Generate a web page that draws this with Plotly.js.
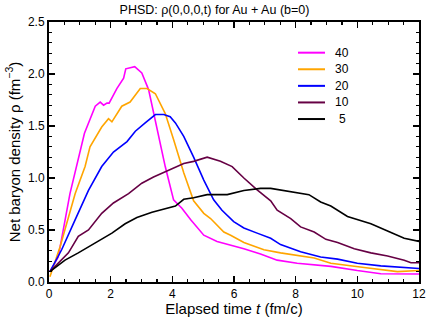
<!DOCTYPE html>
<html>
<head>
<meta charset="utf-8">
<script src="https://cdn.plot.ly/plotly-3.0.1.min.js"></script>
<style>html,body{margin:0;padding:0;background:#fff;}#chart{width:429px;height:317px;}</style>
</head>
<body>
<div id="chart"></div>
<script>
const names = ["40", "30", "20", "10", "5"];
const colors = ["#ff00ff", "#ffa500", "#0000ff", "#660044", "#000000"];

const t40 = [0.03,0.3,0.68,0.95,1.15,1.5,1.66,1.77,1.88,1.95,2.2,2.42,2.49,2.78,3.01,3.23,3.5,3.77,4.04,4.31,4.59,5.02,5.45,5.78,6.32,6.86,7.4,8.05,9.14,10.0,10.76,12.0];
const r40 = [0.10,0.24,0.85,1.17,1.43,1.69,1.73,1.70,1.72,1.72,1.86,1.96,2.05,2.07,2.01,1.85,1.49,1.11,0.79,0.71,0.60,0.45,0.39,0.365,0.32,0.27,0.21,0.18,0.15,0.11,0.08,0.077];

const t30 = [0.03,0.36,0.85,1.17,1.33,1.71,1.93,2.04,2.36,2.63,2.96,3.18,3.45,3.77,4.04,4.37,4.69,5.02,5.24,5.45,5.67,5.89,6.32,6.97,7.51,8.6,9.14,10.22,11.3,12.0];
const r30 = [0.05,0.34,0.85,1.11,1.30,1.49,1.57,1.54,1.69,1.73,1.86,1.86,1.81,1.62,1.37,1.05,0.78,0.66,0.61,0.55,0.48,0.45,0.38,0.31,0.28,0.23,0.18,0.14,0.10,0.11];

const t20 = [0.03,0.41,0.85,1.28,1.71,2.09,2.53,2.80,3.12,3.45,3.72,3.93,4.1,4.37,4.69,5.02,5.34,5.61,5.99,6.32,6.75,7.19,7.51,8.16,8.81,9.36,10.0,10.76,12.0];
const r20 = [0.10,0.31,0.60,0.88,1.11,1.25,1.35,1.45,1.53,1.61,1.61,1.59,1.53,1.40,1.20,0.98,0.79,0.69,0.58,0.52,0.47,0.42,0.36,0.29,0.24,0.22,0.18,0.155,0.13];

const t10 = [0.03,0.63,0.95,1.28,1.71,2.09,2.58,3.01,3.39,3.77,3.93,4.37,4.69,5.13,5.56,5.94,6.32,6.75,7.19,7.4,7.84,8.16,8.6,8.98,9.36,9.9,10.44,10.98,11.52,11.74,12.0];
const r10 = [0.10,0.28,0.44,0.50,0.66,0.76,0.85,0.95,1.01,1.06,1.08,1.14,1.16,1.20,1.16,1.11,1.00,0.885,0.78,0.69,0.61,0.53,0.48,0.41,0.38,0.32,0.28,0.25,0.21,0.185,0.185];

const t5 = [0.03,0.52,0.95,1.17,1.60,2.04,2.47,2.85,3.34,3.77,4.1,4.37,4.69,5.13,5.78,6.32,6.86,7.19,7.51,7.89,8.43,8.81,9.14,9.68,10.0,10.44,10.98,11.52,12.0];
const r5 = [0.10,0.21,0.28,0.32,0.39,0.47,0.56,0.62,0.67,0.70,0.73,0.795,0.81,0.84,0.84,0.88,0.90,0.90,0.885,0.86,0.84,0.77,0.73,0.63,0.60,0.56,0.49,0.42,0.39];

const xs = [t40, t30, t20, t10, t5];
const ys = [r40, r30, r20, r10, r5];

const data = xs.map((x, i) => ({
  x: x, y: ys[i], name: names[i], type: "scatter", mode: "lines",
  line: {color: colors[i], width: 1.6}, showlegend: false
}));

const font = {family: "Liberation Sans, Arial, sans-serif", color: "#000"};
const axisCommon = {
  showgrid: false, zeroline: false, showline: true, linecolor: "#000", linewidth: 2,
  mirror: "allticks", ticks: "inside", ticklen: 6, tickwidth: 1.5, tickcolor: "#000",
  tickfont: {family: font.family, size: 12, color: "#000"}
};

// legend drawn as shapes + annotations (paper coordinates)
const legY0 = 0.882, legStep = 0.0638;
const shapes = names.map((n, i) => ({
  type: "line", xref: "paper", yref: "paper",
  x0: 0.673, x1: 0.746, y0: legY0 - i * legStep, y1: legY0 - i * legStep,
  line: {color: colors[i], width: 2}
}));
const annotations = names.map((n, i) => ({
  text: n, xref: "paper", yref: "paper", x: 0.793, y: legY0 - i * legStep,
  xanchor: "center", yanchor: "middle", showarrow: false,
  font: {family: font.family, size: 12, color: "#000"}
}));

const layout = {
  width: 429, height: 317,
  margin: {l: 49, r: 10, t: 22, b: 35},
  paper_bgcolor: "#fff", plot_bgcolor: "#fff",
  font: font,
  title: {text: "PHSD: \u03c1(0,0,0,t) for Au + Au (b=0)", font: {family: font.family, size: 12.5, color: "#000"}, x: 0.5, xanchor: "center", y: 0.985, yanchor: "top"},
  xaxis: Object.assign({}, axisCommon, {
    range: [0, 12], dtick: 2, tick0: 0,
    minor: {dtick: 0.5, ticks: "inside", ticklen: 3, tickwidth: 1.2, tickcolor: "#000"},
    title: {text: "Elapsed time <i>t</i> (fm/c)", font: {family: font.family, size: 15, color: "#000"}, standoff: 3}
  }),
  yaxis: Object.assign({}, axisCommon, {
    range: [0, 2.5], dtick: 0.5, tick0: 0, tickformat: ".1f",
    minor: {dtick: 0.1, ticks: "inside", ticklen: 3, tickwidth: 1.2, tickcolor: "#000"},
    title: {text: "Net baryon density \u03c1 (fm<sup>\u22123</sup>)", font: {family: font.family, size: 15, color: "#000"}, standoff: 4}
  }),
  showlegend: false,
  shapes: shapes,
  annotations: annotations
};

Plotly.newPlot("chart", data, layout, {displayModeBar: false, staticPlot: true});
</script>
</body>
</html>
